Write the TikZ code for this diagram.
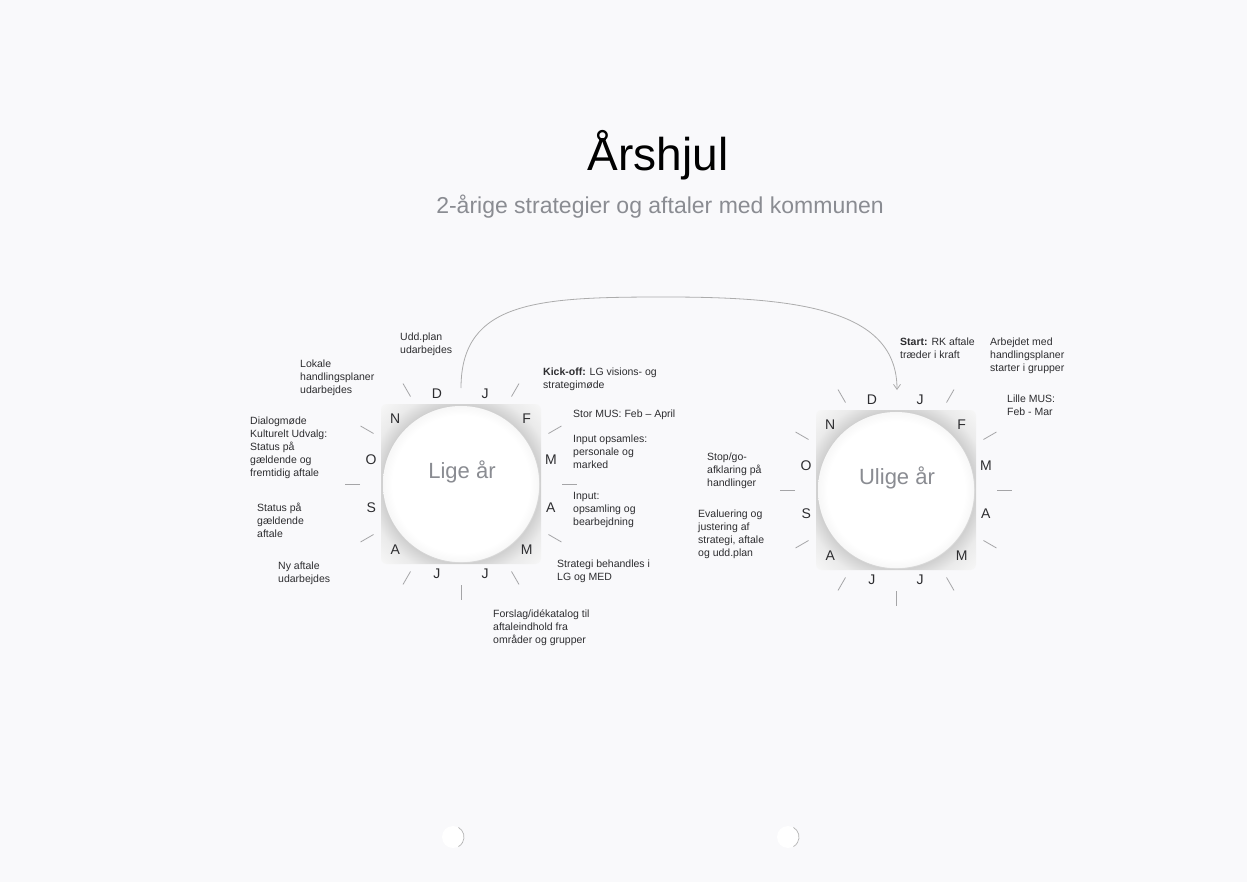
\documentclass[tikz,border=0pt]{standalone}
\usepackage{fontspec}
\setmainfont{Liberation Sans}
\usetikzlibrary{arrows.meta}
\definecolor{paper}{RGB}{249,249,251}
\definecolor{inktext}{RGB}{45,45,48}
\definecolor{subgray}{RGB}{138,140,146}
\definecolor{tickgray}{RGB}{165,165,167}
\pgfdeclareradialshading{wheelshade}{\pgfpoint{0bp}{0bp}}{color(0bp)=(white); color(24bp)=(white); color(24.5bp)=(gray!38); color(29bp)=(gray!16); color(36bp)=(gray!5); color(50bp)=(gray!5)}
\pgfdeclareradialshading{discshade}{\pgfpoint{0bp}{0bp}}{color(0bp)=(white); color(22bp)=(white); color(25bp)=(gray!6); color(50bp)=(gray!6)}
\tikzset{
  lbl/.style={font=\fontsize{10.5}{12.8}\selectfont, text=inktext, align=left, anchor=north west, inner sep=0pt},
  month/.style={font=\fontsize{14}{14}\selectfont, text=inktext},
  ticksty/.style={draw=tickgray, line width=0.8pt},
  yeararrow/.style={draw=gray!65, line width=0.8pt, -{Straight Barb[length=5pt,width=7pt]}}
}
\begin{document}
\begin{tikzpicture}[x=1pt,y=-1pt]
  % paper
  \fill[paper] (0,0) rectangle (1247,882);
  \useasboundingbox (0,0) rectangle (1247,882);
  % title
  \node[font=\fontsize{46}{50}\selectfont] (title) at (658,155) {Årshjul};
  \node[font=\fontsize{23}{26}\selectfont, text=subgray] (subtitle) at (660,207) {2-årige strategier og aftaler med kommunen};
  % the two wheels
  \foreach \cx/\cy/\nm/\txt in {461/484/lige/Lige år, 896/490/ulige/Ulige år}{
    \begin{scope}[shift={(\cx,\cy)}]
      \shade[shading=wheelshade, rounded corners=6] (-80,-80) rectangle (80,80);
      \shade[shading=discshade] (0,0) circle (78);
      \node[font=\fontsize{22}{22}\selectfont, text=subgray] (\nm) at (1,-12) {\txt};
      \foreach \m [count=\i from 0] in {D,J,F,M,A,M,J,J,A,S,O,N}
        \node[month] (\nm-\i) at ({-105+30*\i}:93) {\m};
      \foreach \a in {0,30,...,240,300,330}
        \draw[ticksty] (\a:101) -- (\a:116);
    \end{scope}
  }
  % arrow from even year to odd year
  \coordinate (arcstart) at (461,388);
  \coordinate (arctop) at (666,297);
  \coordinate (arcend) at (897,390);
  \draw[yeararrow] (arcstart) .. controls +(0,-88) and +(-126,0) .. (arctop)
    .. controls +(134,0) and +(0,-80) .. (arcend);
  % labels, even year
  \node[lbl] (udd) at (400,333) {Udd.plan\\udarbejdes};
  \node[lbl] (lokale) at (300,360) {Lokale\\handlingsplaner\\udarbejdes};
  \node[lbl] (dialog) at (250,417) {Dialogmøde\\Kulturelt Udvalg:\\Status på\\gældende og\\fremtidig aftale};
  \node[lbl] (status) at (257,503) {Status på\\gældende\\aftale};
  \node[lbl] (nyaftale) at (278,562) {Ny aftale\\udarbejdes};
  \node[lbl] (forslag) at (493,610) {Forslag/idékatalog til\\aftaleindhold fra\\områder og grupper};
  \node[lbl] (strategi) at (557,560) {Strategi behandles i\\LG og MED};
  \node[lbl] (kickoff) at (543,368) {\textbf{Kick-off:} LG visions- og\\strategimøde};
  \node[lbl] (stormus) at (573,410) {Stor MUS: Feb – April};
  \node[lbl] (inputa) at (573,435) {Input opsamles:\\personale og\\marked};
  \node[lbl] (inputb) at (573,492) {Input:\\opsamling og\\bearbejdning};
  % labels, odd year
  \node[lbl] (start) at (900,338) {\textbf{Start:} RK aftale\\træder i kraft};
  \node[lbl] (arbejdet) at (990,338) {Arbejdet med\\handlingsplaner\\starter i grupper};
  \node[lbl] (lillemus) at (1007,395) {Lille MUS:\\Feb - Mar};
  \node[lbl] (stopgo) at (707,453) {Stop/go-\\afklaring på\\handlinger};
  \node[lbl] (evaluering) at (698,510) {Evaluering og\\justering af\\strategi, aftale\\og udd.plan};
  % punched holes
  \foreach \hx in {453,788}{
    \fill[white] (\hx,837) circle (11);
    \draw[gray!60, line width=0.7pt] (\hx,837) ++(-60:11) arc (-60:60:11);
  }
\end{tikzpicture}
\end{document}
